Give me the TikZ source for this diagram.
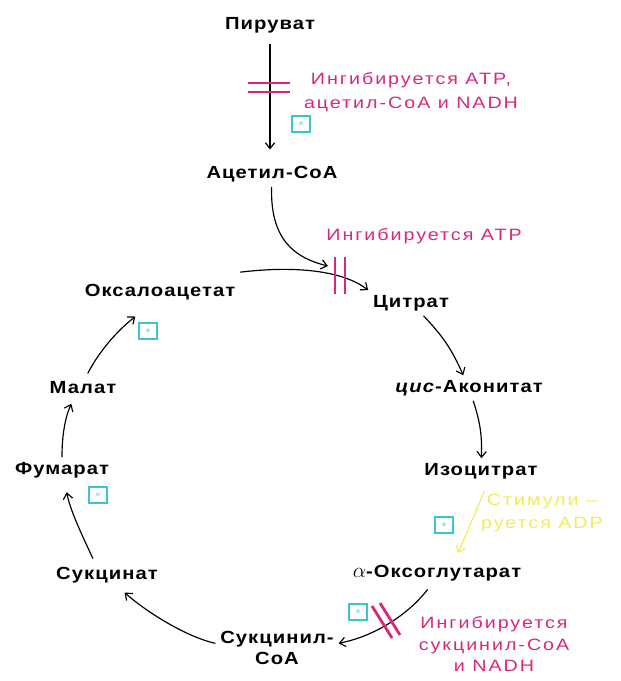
\documentclass[tikz,border=0pt]{standalone}
\usepackage{fontspec}
\usetikzlibrary{arrows.meta}
\setmainfont{Liberation Sans}
\newfontfamily\metfam[FakeStretch=1.15,LetterSpace=6]{Liberation Sans}
\newfontfamily\notefam[FakeStretch=1.2,LetterSpace=12]{Liberation Sans}
\definecolor{inhpink}{HTML}{D8287A}
\definecolor{stimyellow}{HTML}{F0EC5C}
\definecolor{enzcyan}{HTML}{3CC4D2}

\begin{document}
\begin{tikzpicture}[x=0.03cm, y=-0.03cm,
    met/.style={font={\metfam\bfseries\fontsize{15}{18.5}\selectfont}, inner sep=4pt, align=center},
    note/.style={font={\notefam\fontsize{14}{20.5}\selectfont}, text=inhpink, align=center},
    flow/.style={-{Straight Barb[length=5pt,width=8pt]}, line width=1pt},
    stimflow/.style={flow, draw=stimyellow},
    bar/.style={draw=inhpink, line width=2.4pt},
    enzbox/.style={draw=enzcyan, line width=0.9pt, minimum width=0.54cm, minimum height=0.48cm, inner sep=0pt, text=enzcyan, font=\small}]
    \useasboundingbox (0,0) rectangle (620,681);

    % Metabolites
    \node[met] (pyr) at (270,25) {Пируват};
    \node[met] (acoa) at (272,174) {Ацетил-CoA};
    \node[met] (oaa) at (160,292) {Оксалоацетат};
    \node[met] (cit) at (411,303) {Цитрат};
    \node[met] (cisac) at (469,388) {\textit{цис}-Аконитат};
    \node[met] (isocit) at (481,471) {Изоцитрат};
    \node[met] (akg) at (437,573) {\scalebox{1.25}{$\alpha$}-Оксоглутарат};
    \node[met] (succoa) at (277,648) {Сукцинил-\\CoA};
    \node[met] (succ) at (107,575) {Сукцинат};
    \node[met] (fum) at (62,470) {Фумарат};
    \node[met] (mal) at (83,388) {Малат};

    % Regulation notes
    \node[note] (inh1) at (411,92) {Ингибируется ATP,\\ацетил-CoA и NADH};
    \node[note] (inh2) at (424,236) {Ингибируется ATP};
    \node[note, font={\notefam\fontsize{14}{18}\selectfont}] (inh3) at (494,644) {Ингибируется\\сукцинил-CoA\\и NADH};
    \node[note, text=stimyellow, font={\notefam\fontsize{14}{19.5}\selectfont}] (stim) at (542,513) {Стимули –\\руется ADP};

    % Enzyme marks
    \node[enzbox] (enz1) at (301,124) {$\ast$};
    \node[enzbox] (enz2) at (148,331) {$\ast$};
    \node[enzbox] (enz3) at (98,495) {$\ast$};
    \node[enzbox] (enz4) at (444,525) {$\ast$};
    \node[enzbox] (enz5) at (358,612) {$\ast$};

    % Block points
    \coordinate (blk1) at (269,87.5);
    \coordinate (blk2) at (340,275.5);
    \coordinate (blk3) at (388,621);
    \coordinate (cs1) at (328,266);

    % Entry arrows
    \draw[flow, shorten <=5pt, shorten >=10pt] (pyr) -- (pyr |- acoa.north);
    \draw[flow] (acoa) .. controls (270,240) and (295,258) .. (cs1);
    \draw[flow] ([yshift=6pt]oaa.north east) .. controls (300,265) and (345,272) .. (cit.north west);

    % Cycle
    \draw[flow] (cit) to[bend left=10] (cisac);
    \draw[flow] (cisac) to[bend left=10] (isocit);
    \draw[stimflow] ([xshift=3pt,yshift=-6pt]isocit.south) -- ([xshift=18pt,yshift=6pt]akg.north);
    \draw[flow] ([xshift=-8pt,yshift=-3pt]akg.south) .. controls (412,610) and (380,635) .. ([yshift=4pt]succoa.east);
    \draw[flow] ([yshift=4pt]succoa.west) .. controls (190,638) and (150,615) .. ([xshift=15pt,yshift=-4pt]succ.south);
    \draw[flow] ([xshift=-12pt,yshift=3pt]succ.north) .. controls (82,535) and (70,510) .. ([xshift=4pt,yshift=-8pt]fum.south);
    \draw[flow] (fum.north) .. controls (62,435) and (65,418) .. ([xshift=-10pt,yshift=-4pt]mal.south);
    \draw[flow] ([xshift=4pt,yshift=3pt]mal.north) .. controls (100,350) and (118,330) .. ([xshift=-21pt,yshift=-10pt]oaa.south);

    % Inhibition bars
    \draw[bar] (blk1) ++(-21,-4.5) -- ++(42,0);
    \draw[bar] (blk1) ++(-21,4.5) -- ++(42,0);
    \draw[bar] (blk2) ++(-5,-18.5) -- ++(0,37);
    \draw[bar] (blk2) ++(5,-18.5) -- ++(0,37);
    \draw[bar] (blk3) ++(-16,-15) -- ++(20,32);
    \draw[bar] (blk3) ++(-8,-18) -- ++(20,32);
\end{tikzpicture}
\end{document}
